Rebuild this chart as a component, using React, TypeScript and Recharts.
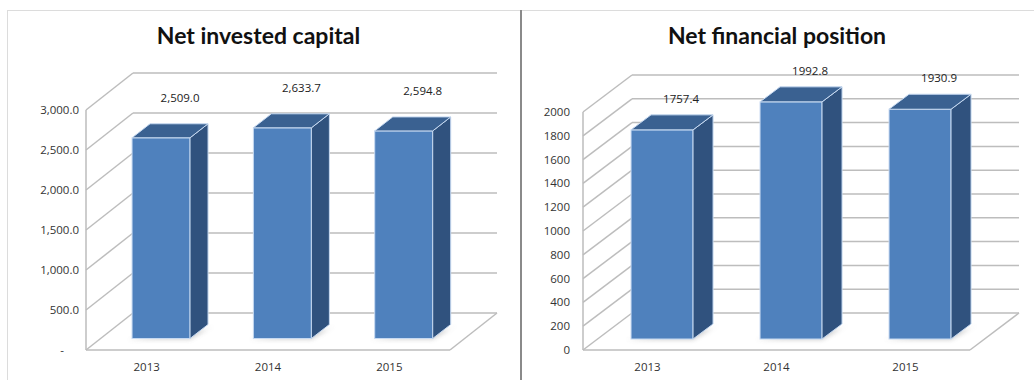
import { Bar, BarChart, CartesianGrid, LabelList, XAxis, YAxis } from 'recharts';

const years = ['2013', '2014', '2015'];
const netInvestedCapital = [2509.0, 2633.7, 2594.8];
const netFinancialPosition = [1757.4, 1992.8, 1930.9];
const investedTicks = [0, 500, 1000, 1500, 2000, 2500, 3000];
const financialTicks = [0, 200, 400, 600, 800, 1000, 1200, 1400, 1600, 1800, 2000];

const TITLE_FONT = 'Lato, "Open Sans", sans-serif';
const FONT = '"Open Sans", Lato, sans-serif';
const GRID = '#bdbdbd';

type Depth = {
  dx: number; // depth of the chart box
  dy: number;
  bdx: number; // depth of a bar
  bdy: number;
};

type PanelProps = {
  id: string;
  title: string;
  values: number[];
  ticks: number[];
  format: (v: number) => string;
  left: number;
  width: number;
  margin: { top: number; right: number; left: number };
  axisWidth: number;
  tickGap: number;
  depth: Depth;
  labelDy: number;
};

function barShape(depth: Depth, id: string) {
  const ox = (depth.dx - depth.bdx) / 2;
  const oy = (depth.dy - depth.bdy) / 2;
  return (props: any) => {
    const { x, y, width, height } = props;
    const fx = x + ox;
    const fy = y - oy;
    const fb = y + height - oy;
    const { bdx, bdy } = depth;
    return (
      <g>
        <polygon
          points={`${fx - 4},${fb + 1} ${fx + width},${fb + 1} ${fx + width + bdx + 6},${fb - bdy + 1} ${fx + width + bdx - 2},${fb - bdy + 5}`}
          fill="#9a9a9a"
          opacity={0.45}
          filter={`url(#blur-${id})`}
        />
        <rect x={fx} y={fy} width={width} height={fb - fy} fill="#4f81bd" stroke="#c6d9f1" strokeWidth={1} />
        <polygon
          points={`${fx + width},${fy} ${fx + width + bdx},${fy - bdy} ${fx + width + bdx},${fb - bdy} ${fx + width},${fb}`}
          fill="#30527e"
          stroke="#c6d9f1"
          strokeWidth={1}
        />
        <polygon
          points={`${fx},${fy} ${fx + bdx},${fy - bdy} ${fx + width + bdx},${fy - bdy} ${fx + width},${fy}`}
          fill="#3a6191"
          stroke="#c6d9f1"
          strokeWidth={1}
        />
      </g>
    );
  };
}

function gridLine(depth: Depth) {
  return (props: any) => {
    const { x1, y1, x2, y2, index, key } = props;
    const { dx, dy } = depth;
    const isFloor = index === 0;
    return (
      <g key={key ?? index}>
        <line x1={x1 + dx} y1={y1 - dy} x2={x2 + dx} y2={y2 - dy} stroke={GRID} strokeWidth={1.5} />
        <line x1={x1} y1={y1} x2={x1 + dx} y2={y1 - dy} stroke={GRID} strokeWidth={1.5} />
        {isFloor && (
          <>
            <line x1={x1} y1={y1} x2={x2} y2={y2} stroke={GRID} strokeWidth={1.5} />
            <line x1={x2} y1={y2} x2={x2 + dx} y2={y2 - dy} stroke={GRID} strokeWidth={1.5} />
          </>
        )}
      </g>
    );
  };
}

function Panel({ id, title, values, ticks, format, left, width, margin, axisWidth, tickGap, depth, labelDy }: PanelProps) {
  const data = years.map((year, i) => ({ year, value: values[i] }));
  const ox = (depth.dx - depth.bdx) / 2;
  const oy = (depth.dy - depth.bdy) / 2;
  return (
    <div style={{ position: 'absolute', left, top: 0, width, height: 380 }}>
      <div
        style={{
          position: 'absolute',
          left: 0,
          width: '100%',
          top: 21,
          textAlign: 'center',
          fontFamily: TITLE_FONT,
          fontWeight: 700,
          fontSize: 23,
          color: '#111',
        }}
      >
        {title}
      </div>
      <BarChart
        width={width}
        height={380}
        data={data}
        margin={{ top: margin.top, right: margin.right, left: margin.left - axisWidth, bottom: 0 }}
        barCategoryGap="26%"
        style={{ position: 'absolute', left: 0, top: 0 }}
      >
        <defs>
          <filter id={`blur-${id}`} x="-20%" y="-50%" width="140%" height="200%">
            <feGaussianBlur stdDeviation="2" />
          </filter>
        </defs>
        <CartesianGrid horizontal={gridLine(depth)} vertical={false} />
        <XAxis
          dataKey="year"
          height={30}
          tickLine={false}
          axisLine={false}
          tickSize={0}
          tickMargin={13}
          tick={{ fill: '#333', fontSize: 11.5, fontFamily: FONT }}
        />
        <YAxis
          width={axisWidth}
          domain={[ticks[0], ticks[ticks.length - 1]]}
          ticks={ticks}
          interval={0}
          tickFormatter={format}
          tickLine={false}
          tickSize={0}
          tickMargin={tickGap}
          axisLine={{ stroke: GRID, strokeWidth: 1.5 }}
          tick={{ fill: '#333', fontSize: 11.5, fontFamily: FONT }}
        />
        <Bar dataKey="value" isAnimationActive={false} shape={barShape(depth, id)}>
          <LabelList
            dataKey="value"
            content={(p: any) => (
              <text
                x={p.x + p.width / 2 + ox + 19}
                y={p.y - oy + labelDy}
                textAnchor="middle"
                dominantBaseline="middle"
                fontSize={11.5}
                fontFamily={FONT}
                fill="#222"
              >
                {format(p.value)}
              </text>
            )}
          />
        </Bar>
      </BarChart>
    </div>
  );
}

const fmtInvested = (v: number) =>
  v === 0
    ? '-\u00A0\u00A0\u00A0\u00A0\u00A0'
    : v.toLocaleString('en-US', { minimumFractionDigits: 1, maximumFractionDigits: 1 });
const fmtFinancial = (v: number) => (Number.isInteger(v) ? String(v) : v.toFixed(1));

export default function App() {
  return (
    <div style={{ position: 'absolute', left: 0, top: 0, width: 1034, height: 380, background: '#fff', overflow: 'hidden' }}>
      <div style={{ position: 'absolute', left: 7, top: 10, width: 1027, height: 1, background: '#dcdcdc' }} />
      <div style={{ position: 'absolute', left: 7, top: 10, width: 1, height: 370, background: '#dcdcdc' }} />
      <Panel
        id="nic"
        title="Net invested capital"
        values={netInvestedCapital}
        ticks={investedTicks}
        format={fmtInvested}
        left={0}
        width={517}
        margin={{ top: 110, right: 67, left: 86 }}
        axisWidth={80}
        tickGap={7}
        depth={{ dx: 47, dy: 37, bdx: 18, bdy: 14 }}
        labelDy={-39}
      />
      <Panel
        id="nfp"
        title="Net financial position"
        values={netFinancialPosition}
        ticks={financialTicks}
        format={fmtFinancial}
        left={520}
        width={514}
        margin={{ top: 112, right: 64, left: 63 }}
        axisWidth={60}
        tickGap={13}
        depth={{ dx: 49, dy: 37, bdx: 20, bdy: 15 }}
        labelDy={-30}
      />
      <div style={{ position: 'absolute', left: 520, top: 10, width: 2, height: 370, background: '#8a8a8a' }} />
    </div>
  );
}
